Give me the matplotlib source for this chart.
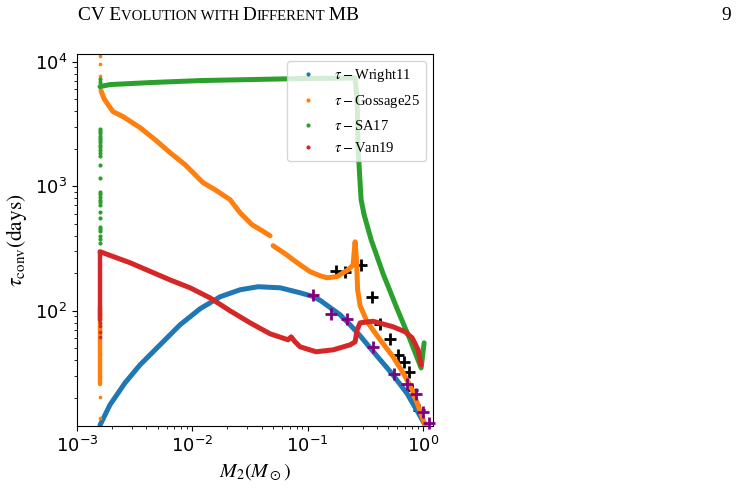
import numpy as np
import matplotlib
matplotlib.use("Agg")
import matplotlib.pyplot as plt
from matplotlib.lines import Line2D

# ---------------- data ----------------
col_m = 1.58e-3  # mass where the vertical columns of points sit

blue_m = [1.584e-3, 1.932e-3, 2.608e-3, 3.518e-3, 5.248e-3, 7.823e-3, 0.01166,
          0.01738, 0.02593, 0.03713, 0.05762, 0.0859, 0.1113, 0.1281, 0.191,
          0.2332, 0.2848, 0.3477, 0.4246, 0.5397, 0.7237, 0.9122, 1.043]
blue_t = [12.1, 17.6, 26.4, 36.8, 53.3, 77.2, 103.8, 129.5, 147.5, 156, 153,
          139.5, 130.3, 121.4, 92.9, 77.2, 63.0, 50.4, 40.5, 31.2, 21.8, 15.1,
          12.1]

orange_m1 = [1.614e-3, 1.715e-3, 1.857e-3, 2.052e-3, 2.506e-3, 3.518e-3,
             4.748e-3, 6.409e-3, 8.643e-3, 0.01238, 0.01574, 0.02123, 0.02593,
             0.03295, 0.04022, 0.04719]
orange_t1 = [5850, 5045, 4514, 3966, 3615, 2951, 2363, 1858, 1488, 1067, 937,
             779, 612, 491, 439, 400]
orange_m2 = [0.0501, 0.0637, 0.0747, 0.0859, 0.1049, 0.1281, 0.1474, 0.1799,
             0.2028, 0.2241, 0.2475, 0.2577, 0.2655, 0.2709, 0.2848, 0.3274,
             0.4246, 0.5503, 0.672, 0.8044, 0.9068, 0.9822, 1.043]
orange_t2 = [333, 287, 257, 234, 206, 191, 184, 188, 202, 213, 234, 358, 247,
             147.5, 109.7, 81.6, 58.5, 42.7, 31.8, 23.2, 17.3, 14.1, 12.1]
orange_col = [26, 108]
orange_dots = [11000, 9640, 7720, 20.5, 13.9, 30, 45, 70, 95]

green_m = [1.584e-3, 1.932e-3, 4.297e-3, 0.01166, 0.03165, 0.0859, 0.2577,
           0.2682, 0.2736, 0.2905, 0.3084, 0.3548, 0.4508, 0.5962, 0.7728,
           0.9627, 1.022]
green_t = [6298, 6535, 6781, 7037, 7170, 7305, 7373, 4953, 1965, 779, 590, 372,
           198, 103.8, 58.5, 34.8, 55.3]
green_dots = [7200, 6900, 2850, 2750, 2650, 2550, 2450, 2350, 2250, 2150, 2050,
              1950, 1850, 1750, 1490, 1170, 900, 860, 820, 780, 740, 710, 626,
              560, 470, 450, 433, 395, 375, 352]

red_m = [1.584e-3, 2.883e-3, 6.409e-3, 9.55e-3, 0.01424, 0.02123, 0.03165,
         0.04719, 0.0676, 0.0718, 0.0777, 0.0859, 0.1183, 0.1661, 0.2332,
         0.2577, 0.2682, 0.2848, 0.3692, 0.5503, 0.6995, 0.8044, 0.9068, 0.9627]
red_t = [298, 243, 177, 153, 127, 100, 80.1, 65.4, 58.5, 61.8, 56.4, 51.4, 46.9,
         48.6, 53.3, 56.4, 70.4, 80.1, 82.4, 74.4, 67.8, 60.7, 48.6, 36.8]
red_col = [85, 298]
red_dots = [80, 75, 68, 62]

black_m = [0.176, 0.211, 0.290, 0.362, 0.424, 0.513, 0.608, 0.686, 0.758,
           0.805, 0.925]
black_t = [209, 203, 235, 129, 78.7, 59.6, 44.3, 39, 32.4, 23.2, 16]

purple_m = [0.111, 0.160, 0.217, 0.369, 0.561, 0.727, 0.865, 0.993, 1.13]
purple_t = [134.6, 94.6, 86.3, 51.4, 31.2, 25.9, 21.5, 15.3, 12.6]

labels = [r"$\tau-$Wright11", r"$\tau-$Gossage25", r"$\tau-$SA17",
          r"$\tau-$Van19"]
colors = ["#1f77b4", "#ff7f0e", "#2ca02c", "#d62728"]

# ---------------- figure ----------------
W, H = 737, 488
fig = plt.figure(figsize=(W / 100, H / 100), dpi=100)
ax = fig.add_axes([77 / W, 1 - 426 / H, 356 / W, 372 / H])

LW = 3.6
kw = dict(solid_capstyle="round", solid_joinstyle="round")

ax.scatter(black_m, black_t, marker="+", s=70, color="black", linewidths=2,
           zorder=1.5)

ax.plot(blue_m, blue_t, color=colors[0], lw=LW, zorder=2, **kw)

ax.plot(orange_m1, orange_t1, color=colors[1], lw=LW, zorder=2.1, **kw)
ax.plot(orange_m2, orange_t2, color=colors[1], lw=LW, zorder=2.1, **kw)
ax.plot([col_m, col_m], orange_col, color=colors[1], lw=3.2, zorder=2.1, **kw)
ax.scatter(np.full(len(orange_dots), col_m), orange_dots, s=7,
           color=colors[1], zorder=2.1, linewidths=0)

ax.plot(green_m, green_t, color=colors[2], lw=LW, zorder=2.2, **kw)
ax.scatter(np.full(len(green_dots), col_m), green_dots, s=9,
           color=colors[2], zorder=2.2, linewidths=0)

ax.plot(red_m, red_t, color=colors[3], lw=LW, zorder=2.3, **kw)
ax.plot([col_m, col_m], red_col, color=colors[3], lw=3.2, zorder=2.3, **kw)
ax.scatter(np.full(len(red_dots), col_m), red_dots, s=7,
           color=colors[3], zorder=2.3, linewidths=0)

ax.scatter(purple_m, purple_t, marker="+", s=70, color="purple", linewidths=2,
           zorder=3, clip_on=False)

ax.set_xscale("log")
ax.set_yscale("log")
ax.set_xlim(1e-3, 1.22)
ax.set_ylim(11.9, 11500)
ax.tick_params(axis="both", which="major", labelsize=13)

xl = ax.set_xlabel(r"$M_2(M_\odot)$", fontsize=14.5)
xl.set_math_fontfamily("stix")
yl = ax.set_ylabel(r"$\tau_{\rm conv}{\rm (days)}$", fontsize=15.5)
yl.set_math_fontfamily("stix")

handles = [Line2D([], [], marker=".", ls="", color=c, markersize=4)
           for c in colors]
leg = ax.legend(handles, labels, loc="upper right", labelspacing=0.6,
                prop={"family": "Liberation Serif", "size": 10.5})
for t in leg.get_texts():
    t.set_math_fontfamily("stix")

# ---------------- running header (small caps) ----------------
renderer = fig.canvas.get_renderer()
parts = [("CV E", True), ("VOLUTION WITH", False), (" D", True),
         ("IFFERENT", False), (" MB", True)]
base_big, ratio = 10.0, 0.76
widths = []
for txt, big in parts:
    t = fig.text(0, 0, txt, family="Liberation Serif",
                 fontsize=base_big if big else base_big * ratio)
    widths.append(t.get_window_extent(renderer).width)
    t.remove()
scale = 281.0 / sum(widths)
big_size = base_big * scale
x_px = 78.0
y_base = 1 - 20.0 / H
for (txt, big), w in zip(parts, widths):
    fig.text(x_px / W, y_base, txt, family="Liberation Serif",
             fontsize=big_size if big else big_size * ratio,
             va="baseline", ha="left")
    x_px += w * scale
fig.text(731 / W, y_base, "9", family="Liberation Serif", fontsize=big_size,
         va="baseline", ha="right")

fig.savefig("out.png", dpi=100)
